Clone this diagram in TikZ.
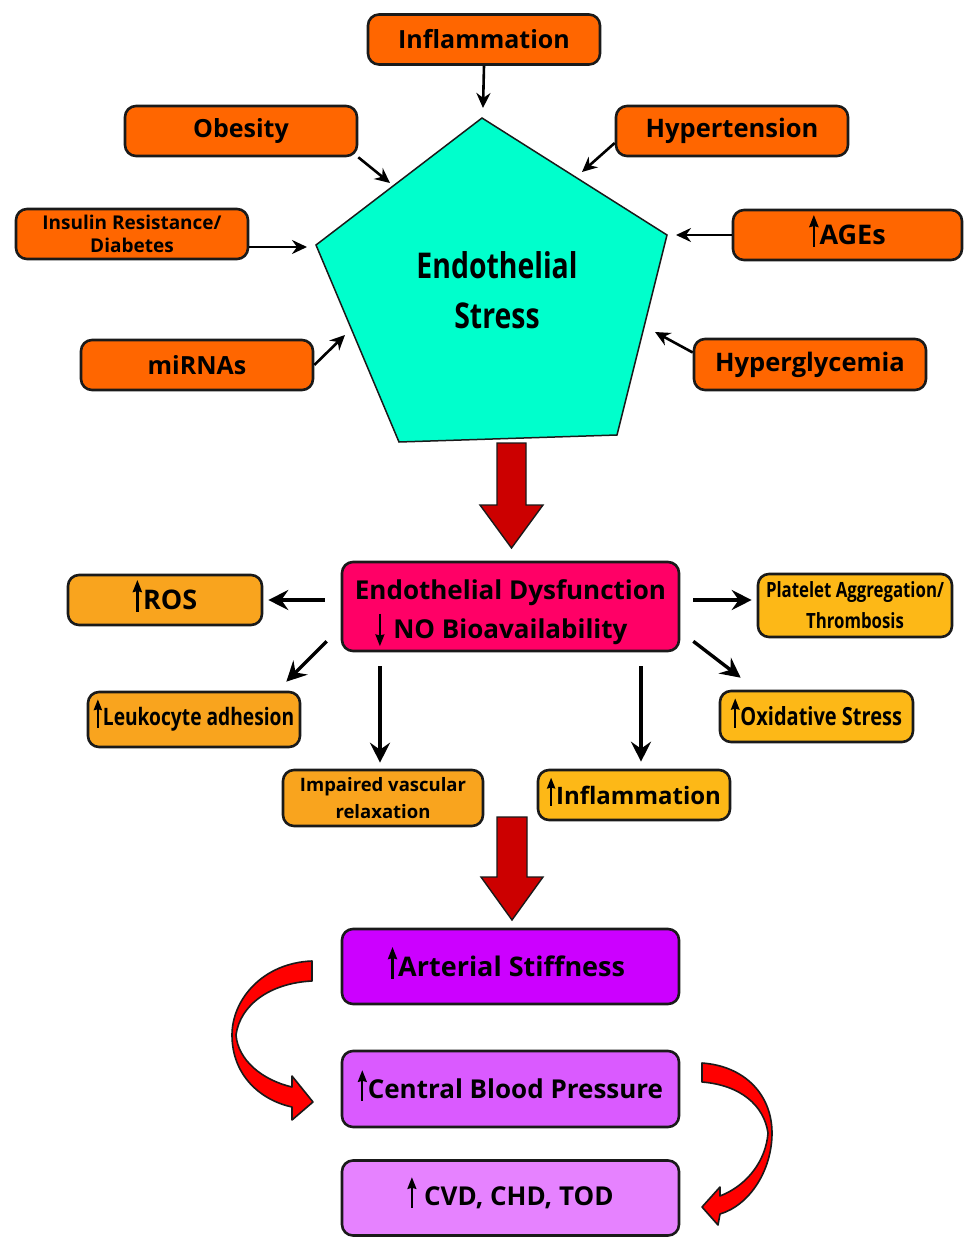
\documentclass[tikz,border=0pt]{standalone}
\usepackage{fontspec}
\setmainfont{Open Sans}
\newfontfamily\condf{Open Sans}[FakeStretch=0.8]
\usetikzlibrary{arrows.meta,calc}
\definecolor{orA}{HTML}{FF6600}
\definecolor{cyP}{HTML}{00FFCC}
\definecolor{pkE}{HTML}{FF0066}
\definecolor{amA}{HTML}{F9A41E}
\definecolor{amB}{HTML}{FDB817}
\definecolor{dkR}{HTML}{CC0000}
\definecolor{rdC}{HTML}{FF0000}
\definecolor{puA}{HTML}{CC00FF}
\definecolor{puB}{HTML}{DA5AFF}
\definecolor{puC}{HTML}{E682FF}
\definecolor{edge}{HTML}{1A1A1A}
\newcommand{\fsz}[2]{\fontsize{#1}{#2}\selectfont\bfseries}
\newcommand{\uparr}{\smash{\tikz[baseline=0pt]\draw[line width=0.085em,-{Stealth[length=0.45em,width=0.34em,inset=0.04em]}] (0pt,-0.08em)--(0pt,1.1em);}\hspace{0.04em}}
\newcommand{\dnarr}{\smash{\tikz[baseline=0pt]\draw[line width=0.085em,-{Stealth[length=0.45em,width=0.34em,inset=0.04em]}] (0pt,0.95em)--(0pt,-0.3em);}}
\begin{document}
\begin{tikzpicture}[x=1pt,y=1pt,
  box/.style={draw=edge, line width=2.6pt, rounded corners=11pt, align=center, inner sep=0pt},
  arr/.style={draw=black, line width=2.6pt, -{Stealth[length=15pt,width=14pt,inset=5pt]}},
  barr/.style={draw=black, line width=3.4pt, -{Stealth[length=20pt,width=20pt,inset=7pt]}},
  bigarrow/.style={fill=dkR, draw=edge, line width=1.4pt, line join=miter},
  curvearrow/.style={fill=rdC, draw=edge, line width=1.6pt, line join=round}]
\fill[white] (0,0) rectangle (965,-1237);
\useasboundingbox (0,0) rectangle (965,-1237);

% pentagon
\filldraw[fill=cyP, draw=edge, line width=1.5pt, line join=miter]
  (482,-118) -- (667,-235) -- (617,-435) -- (399,-442) -- (316,-245) -- cycle;
\node[align=center, font=\condf\fsz{35.5}{50}] (es) at (497,-290) {Endothelial\\Stress};
\coordinate (pInf) at (483,-108);
\coordinate (pObe) at (390,-183);
\coordinate (pHyp) at (582,-172);
\coordinate (pIns) at (307,-247);
\coordinate (pAge) at (676,-235);
\coordinate (pMir) at (345,-335);
\coordinate (pHyg) at (655,-332);

% top boxes
\node[box, fill=orA, minimum width=232, minimum height=50, font=\fsz{25}{30}] (infl) at (484,-39.5) {Inflammation};
\node[box, fill=orA, minimum width=232, minimum height=50, font=\fsz{25}{30}] (obes) at (241,-131) {Obesity};
\node[box, fill=orA, minimum width=232, minimum height=50, font=\fsz{25.5}{30}] (hyp) at (732,-131) {Hypertension};
\node[box, fill=orA, minimum width=232, minimum height=50, font=\fsz{19}{23}] (ins) at (132,-234) {Insulin Resistance/\\Diabetes};
\node[box, fill=orA, minimum width=229, minimum height=50, font=\fsz{27}{30}] (ages) at (847.5,-235) {\uparr AGEs};
\node[box, fill=orA, minimum width=232, minimum height=50, font=\fsz{25}{30}] (mir) at (197,-365) {miRNAs};
\node[box, fill=orA, minimum width=232, minimum height=51, font=\fsz{25.5}{30}] (hgl) at (810,-364.5) {Hyperglycemia};

\draw[arr] (infl.south) -- (pInf);
\draw[arr] (obes.south east) -- (pObe);
\draw[arr] ([yshift=-12pt]hyp.west) -- (pHyp);
\draw[arr] ([yshift=-13pt]ins.east) -- (pIns);
\draw[arr] (ages.west) -- (pAge);
\draw[arr] (mir.east) -- (pMir);
\draw[arr] ([yshift=12pt]hgl.west) -- (pHyg);

% big red arrow 1
\draw[bigarrow] (497,-443) -- (526,-443) -- (526,-505) -- (543,-505) -- (511.5,-548) -- (480,-505) -- (497,-505) -- cycle;

% endothelial dysfunction
\node[box, fill=pkE, minimum width=337, minimum height=89, font=\fsz{26}{39}] (ed) at (510.5,-606.5)
  {\rule{0pt}{31pt}Endothelial Dysfunction\\\dnarr\hspace{9pt}NO Bioavailability\hspace*{18pt}};

\node[box, fill=amA, minimum width=194, minimum height=50, font=\fsz{27}{30}] (ros) at (165,-600) {\uparr ROS};
\node[box, fill=amB, minimum width=194, minimum height=63, font=\condf\fsz{21}{31}] (plat) at (855,-605.5) {Platelet Aggregation/\\Thrombosis};
\node[box, fill=amA, minimum width=212, minimum height=55, font=\condf\fsz{24}{30}] (leuk) at (194,-719.5) {\uparr Leukocyte adhesion};
\node[box, fill=amB, minimum width=193, minimum height=51, font=\condf\fsz{25}{30}] (oxid) at (816.5,-716.5) {\uparr Oxidative Stress};
\node[box, fill=amA, minimum width=200, minimum height=56, font=\fsz{18.5}{27}] (imp) at (383,-798) {Impaired vascular\\relaxation};
\node[box, fill=amB, minimum width=192, minimum height=50, font=\fsz{24}{30}] (infl2) at (634,-795) {\uparr Inflammation};

\draw[barr] ([shift={(-16,6.5)}]ed.west) -- ([xshift=5pt]ros.east);
\draw[barr] ([shift={(13,6.5)}]ed.east) -- ([shift={(-5,5.5)}]plat.west);
\draw[barr] ([shift={(-14,11)}]ed.south west) -- ([shift={(-15,9)}]leuk.north east);
\draw[barr] ([shift={(13,11)}]ed.south east) -- ([shift={(22,12)}]oxid.north west);
\draw[barr] ($(imp.north |- ed.south)+(-3,-14)$) -- ([shift={(-3,6)}]imp.north);
\draw[barr] ($(infl2.north |- ed.south)+(7,-14)$) -- ([shift={(7,7)}]infl2.north);

% big red arrow 2
\draw[bigarrow] (497,-817) -- (527,-817) -- (527,-877) -- (543,-877) -- (512,-920) -- (481,-877) -- (497,-877) -- cycle;

% bottom boxes
\node[box, fill=puA, minimum width=337, minimum height=75, font=\fsz{27}{32}] (art) at (510.5,-966.5) {\hspace*{-8pt}\uparr Arterial Stiffness};
\node[box, fill=puB, minimum width=337, minimum height=76, font=\fsz{26}{32}] (cbp) at (510.5,-1089) {\uparr Central Blood Pressure};
\node[box, fill=puC, minimum width=337, minimum height=75, font=\fsz{26}{32}] (cvd) at (510.5,-1198) {\uparr\ CVD, CHD, TOD};

% curved arrows
\draw[curvearrow] (312,-961) .. controls (262,-963) and (232,-1000) .. (232,-1035)
  .. controls (232,-1075) and (260,-1100) .. (292,-1107) -- (292,-1120) -- (313,-1102) -- (292,-1076) -- (292,-1087)
  .. controls (262,-1080) and (238,-1060) .. (236,-1035)
  .. controls (240,-1005) and (270,-983) .. (312,-981) -- cycle;
\draw[curvearrow] (702,-1063) .. controls (745,-1066) and (772,-1095) .. (772,-1133)
  .. controls (772,-1170) and (750,-1205) .. (720,-1214) -- (718,-1225) -- (702,-1207) -- (720,-1187) -- (720,-1196)
  .. controls (748,-1185) and (766,-1160) .. (768,-1133)
  .. controls (764,-1105) and (740,-1085) .. (702,-1082) -- cycle;
\end{tikzpicture}
\end{document}
